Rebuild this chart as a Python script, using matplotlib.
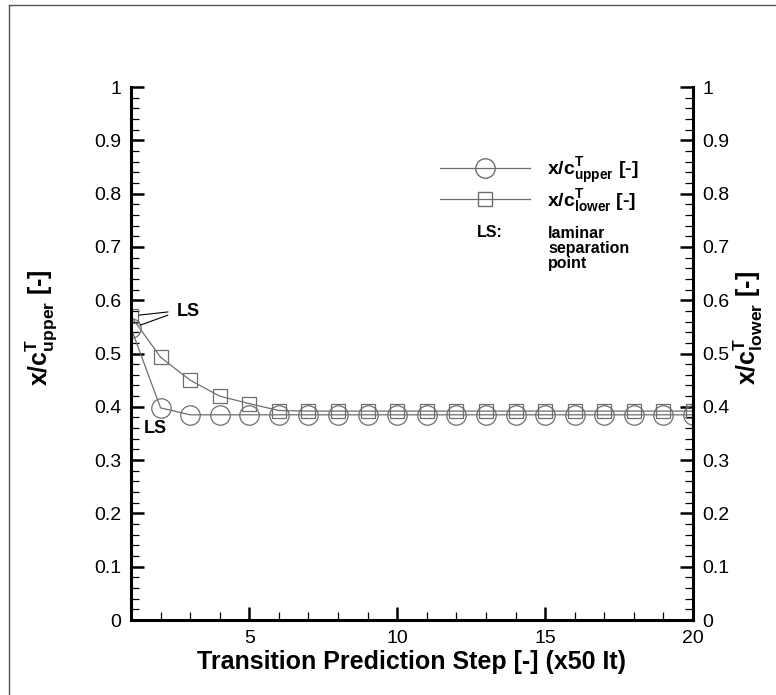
import numpy as np
import matplotlib
matplotlib.use("Agg")
import matplotlib.pyplot as plt
from matplotlib.lines import Line2D
from matplotlib.ticker import MultipleLocator

plt.rcParams['font.family'] = 'Liberation Sans'
plt.rcParams['mathtext.fontset'] = 'custom'
plt.rcParams['mathtext.rm'] = 'Liberation Sans'
plt.rcParams['mathtext.bf'] = 'Liberation Sans:bold'
plt.rcParams['mathtext.it'] = 'Liberation Sans:italic'
plt.rcParams['mathtext.default'] = 'bf'

# transition prediction steps and transition locations
steps = np.arange(1, 21)
xc_upper = [0.548, 0.398, 0.385, 0.385, 0.385, 0.385, 0.385, 0.385, 0.385, 0.385,
            0.385, 0.385, 0.385, 0.385, 0.385, 0.385, 0.385, 0.385, 0.385, 0.385]
xc_lower = [0.570, 0.493, 0.450, 0.420, 0.406, 0.393, 0.392, 0.392, 0.392, 0.392,
            0.392, 0.392, 0.392, 0.392, 0.392, 0.392, 0.392, 0.392, 0.392, 0.392]

lbl_upper = r"x/c$^{T}_{upper}$ [-]"
lbl_lower = r"x/c$^{T}_{lower}$ [-]"
gray = '#6e6e6e'

fig = plt.figure(figsize=(7.76, 6.95), dpi=100)
ax = fig.add_axes([0.1688, 0.1079, 0.7242, 0.7669])

ax.plot(steps, xc_upper, color=gray, lw=0.9, marker='o', ms=14, mfc='none',
        mec=gray, mew=0.9)
ax.plot(steps, xc_lower, color=gray, lw=0.9, marker='s', ms=9.5, mfc='none',
        mec=gray, mew=0.9)

ax.set_xlim(1, 20)
ax.set_ylim(0, 1)
ax.xaxis.set_major_locator(MultipleLocator(5))
ax.xaxis.set_minor_locator(MultipleLocator(1))
ax.yaxis.set_minor_locator(MultipleLocator(0.02))
ax.set_yticks(np.arange(0, 1.01, 0.1))
ax.set_yticklabels(['0', '0.1', '0.2', '0.3', '0.4', '0.5', '0.6', '0.7', '0.8', '0.9', '1'])

ax.spines['top'].set_visible(False)
for s in ['left', 'right', 'bottom']:
    ax.spines[s].set_linewidth(2.2)
ax.tick_params(which='both', direction='in', top=False, right=True,
               labelright=True, labelsize=14)
ax.tick_params(which='major', length=9.5, width=1.8, pad=7)
ax.tick_params(which='minor', length=5.5, width=0.9)

ax.set_xlabel("Transition Prediction Step [-] (x50 It)", fontsize=18,
              fontweight='bold')
ax.xaxis.set_label_coords(0.5, -0.056)
ax.set_ylabel(lbl_upper, fontsize=18, fontweight='bold')
ax.yaxis.set_label_coords(-0.128, 0.548)
ax.text(1.099, 0.548, lbl_lower, transform=ax.transAxes, rotation=90,
        fontsize=18, fontweight='bold', ha='center', va='center')

# laminar separation annotations
lead = dict(arrowstyle='-', color='black', lw=0.8, shrinkA=0, shrinkB=0)
ax.annotate('', xy=(1.27, 0.572), xytext=(2.25, 0.578), arrowprops=lead)
ax.annotate('', xy=(1.3, 0.553), xytext=(2.25, 0.572), arrowprops=lead)
ax.text(2.55, 0.578, 'LS', fontsize=13, fontweight='bold', ha='left', va='center')
ax.text(1.81, 0.36, 'LS', fontsize=13, fontweight='bold', ha='center', va='center')

handles = [Line2D([], [], color=gray, lw=0.9, marker='o', ms=14, mfc='none', mec=gray),
           Line2D([], [], color=gray, lw=0.9, marker='s', ms=9.5, mfc='none', mec=gray)]
leg = ax.legend(handles, [lbl_upper, lbl_lower], loc='upper left',
                bbox_to_anchor=(0.55, 0.871), frameon=False, fontsize=14,
                handlelength=4.6, handletextpad=0.9, labelspacing=0.05,
                borderpad=0, borderaxespad=0)
for t in leg.get_texts():
    t.set_fontweight('bold')
ax.text(0.616, 0.727, 'LS:', transform=ax.transAxes, fontsize=11.5,
        fontweight='bold', ha='left', va='center')
ax.text(0.742, 0.740, 'laminar\nseparation\npoint', transform=ax.transAxes,
        fontsize=11.5, fontweight='bold', ha='left', va='top', linespacing=1.0)

# outer frame
fig.add_artist(Line2D([0.012, 0.012], [0, 0.993], transform=fig.transFigure,
                      color='#555555', lw=1.0))
fig.add_artist(Line2D([0.012, 1.0], [0.993, 0.993], transform=fig.transFigure,
                      color='#555555', lw=1.0))

fig.savefig('out.png', dpi=100)
